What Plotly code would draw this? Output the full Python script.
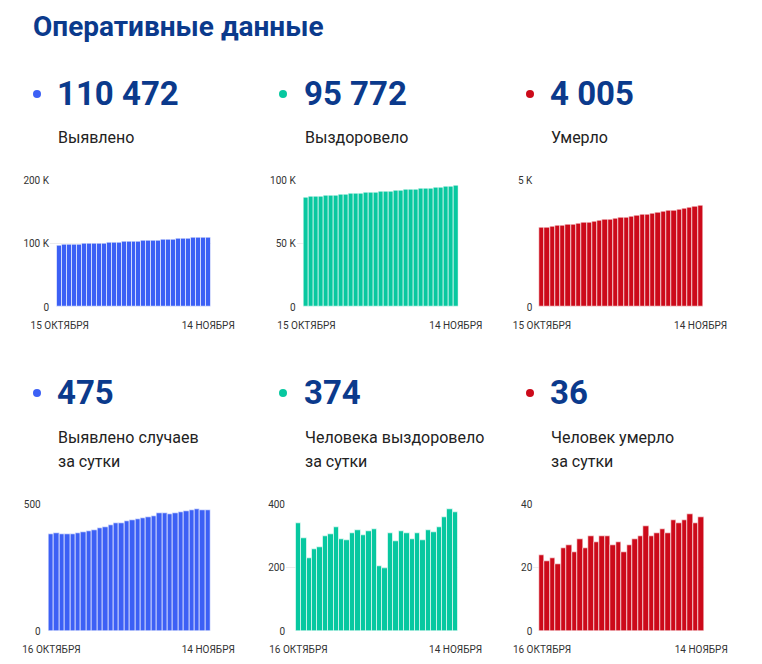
import plotly.graph_objects as go

# page body has an 8px margin, so the figure is drawn 8px smaller and offset
OFF = 8
W, H = 762 - OFF, 664 - OFF

# ---------------- data ----------------
title = "Оперативные данные"

cum_dates = ["15 ОКТЯБРЯ", "14 НОЯБРЯ"]
day_dates = ["16 ОКТЯБРЯ", "14 НОЯБРЯ"]

cases_total = [97547, 97929, 98315, 98698, 99078, 99461, 99847, 100235, 100627, 101024,
               101428, 101837, 102255, 102679, 103105, 103539, 103977, 104419, 104864, 105313,
               105767, 106230, 106696, 107158, 107622, 108090, 108564, 109042, 109522, 109997,
               110472]
recovered_total = [86732, 87072, 87365, 87595, 87853, 88116, 88415, 88720, 89048, 89338,
                   89625, 89933, 90251, 90554, 90869, 91191, 91396, 91594, 91902, 92185,
                   92500, 92810, 93101, 93409, 93696, 94015, 94328, 94655, 95013, 95398,
                   95772]
deaths_total = [3130, 3154, 3176, 3199, 3220, 3246, 3273, 3298, 3327, 3353,
                3383, 3411, 3441, 3471, 3498, 3526, 3551, 3578, 3607, 3637,
                3670, 3700, 3731, 3763, 3794, 3829, 3863, 3898, 3935, 3969,
                4005]

cases_daily = [382, 386, 383, 380, 383, 386, 388, 392, 397, 404,
               409, 418, 424, 426, 434, 438, 442, 445, 449, 454,
               463, 466, 462, 464, 468, 474, 478, 480, 475, 475]
recovered_daily = [340, 293, 230, 258, 263, 299, 305, 328, 290, 287,
                   308, 318, 303, 315, 322, 205, 198, 308, 283, 315,
                   310, 291, 308, 287, 319, 313, 327, 358, 385, 374]
deaths_daily = [24, 22, 23, 21, 26, 27, 25, 29, 26, 30,
                28, 30, 30, 27, 28, 25, 27, 29, 30, 33,
                30, 31, 32, 31, 35, 34, 35, 37, 34, 36]

big_numbers = ["110 472", "95 772", "4 005", "475", "374", "36"]
labels = [["Выявлено"], ["Выздоровело"], ["Умерло"],
          ["Выявлено случаев", "за сутки"], ["Человека выздоровело", "за сутки"],
          ["Человек умерло", "за сутки"]]

y_ticks = [[0, 100000, 200000], [0, 50000, 100000], [0, 5000],
           [0, 500], [0, 200, 400], [0, 20, 40]]
y_ticktext = [["0", "100 K", "200 K"], ["0", "50 K", "100 K"], ["0", "5 K"],
              ["0", "500"], ["0", "200", "400"], ["0", "20", "40"]]

# ---------------- style ----------------
BLUE = "#3c60f5"
GREEN = "#07c8a0"
RED = "#cc0a1a"
NAVY = "#0b3a8c"
colors = [BLUE, GREEN, RED, BLUE, GREEN, RED]
series = [cases_total, recovered_total, deaths_total, cases_daily, recovered_daily, deaths_daily]
dates = [cum_dates] * 3 + [day_dates] * 3

# pixel geometry (page coords): plot left, bars left, bars right, top, bottom
geom = [
    (50.0, 57.3, 210.7, 180.7, 307.0),
    (296.7, 304.0, 458.3, 180.7, 307.0),
    (533.3, 539.3, 703.3, 180.7, 307.0),
    (41.7, 48.7, 211.0, 504.3, 631.0),
    (286.0, 295.7, 458.3, 504.3, 631.0),
    (533.3, 539.3, 704.0, 504.3, 631.0),
]

def px(x):
    return (x - OFF) / W

def py(y):
    return 1 - (y - OFF) / H

fig = go.Figure()
layout = dict(
    template="none",
    width=W, height=H, autosize=False, margin=dict(l=0, r=0, t=0, b=0, pad=0),
    paper_bgcolor="white", plot_bgcolor="white",
    showlegend=False, bargap=0, hovermode=False,
    font=dict(family="Roboto", color="#333333", size=10),
)

for i in range(6):
    vals = series[i]
    n = len(vals)
    xs = list(range(n))
    xl, bl, br, yt, yb = geom[i]
    unit = (br - bl) / n
    xmin = -0.5 - (bl - xl) / unit
    sfx = "" if i == 0 else str(i + 1)
    fig.add_trace(go.Bar(
        x=xs, y=vals, xaxis="x" + sfx, yaxis="y" + sfx,
        marker=dict(color=colors[i], line=dict(color="rgba(255,255,255,0.6)", width=1)),
    ))
    layout["xaxis" + sfx] = dict(
        domain=[px(xl), px(br)], range=[xmin, n - 0.5], anchor="y" + sfx,
        tickmode="array", tickvals=[0, n - 1], ticktext=dates[i],
        showgrid=False, zeroline=False, showline=False, automargin=False,
        ticks="outside", ticklen=9, tickcolor="rgba(0,0,0,0)",
        tickfont=dict(family="Roboto", size=10, color="#333333"),
        fixedrange=True,
    )
    layout["yaxis" + sfx] = dict(
        domain=[py(yb), py(yt)], range=[0, y_ticks[i][-1]], anchor="x" + sfx,
        tickmode="array", tickvals=y_ticks[i], ticktext=y_ticktext[i],
        showgrid=True, gridcolor="#ececec", gridwidth=1, automargin=False,
        zeroline=False, showline=False, ticks="",
        tickfont=dict(family="Roboto", size=10, color="#333333"),
        fixedrange=True,
    )

annotations = [dict(
    text="<b>" + title + "</b>", x=px(31), y=py(27), xref="paper", yref="paper",
    xanchor="left", yanchor="middle", showarrow=False,
    font=dict(family="Roboto", size=28, color=NAVY),
)]
shapes = []

col_num_x = [58, 305, 551]
bullet_x = [37, 283, 530]
row_num_y = [93, 392]
row_lab_y = [[137], [437, 461]]

for i in range(6):
    r, c = divmod(i, 3)
    annotations.append(dict(
        text="<b>" + big_numbers[i] + "</b>", x=px(col_num_x[c] - 3), y=py(row_num_y[r]),
        xref="paper", yref="paper", xanchor="left", yanchor="middle", showarrow=False,
        font=dict(family="Roboto", size=33, color=NAVY),
    ))
    for j, line in enumerate(labels[i]):
        annotations.append(dict(
            text=line, x=px(col_num_x[c] - 2), y=py(row_lab_y[r][j]),
            xref="paper", yref="paper", xanchor="left", yanchor="middle", showarrow=False,
            align="left", font=dict(family="Roboto", size=16, color="#222222"),
        ))
    bx, by = bullet_x[c], row_num_y[r] + 1
    shapes.append(dict(
        type="circle", xref="paper", yref="paper",
        x0=px(bx - 4), x1=px(bx + 4), y0=py(by + 4), y1=py(by - 4),
        fillcolor=colors[i], line=dict(width=0),
    ))

layout["annotations"] = annotations
layout["shapes"] = shapes
fig.update_layout(**layout)
fig.write_html("out.html", config={"displayModeBar": False})
